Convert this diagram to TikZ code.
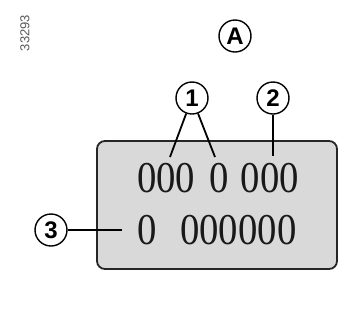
\documentclass[tikz,border=0pt]{standalone}
\usepackage{fontspec}
\setmainfont{Liberation Serif}
\newfontfamily\labelfont{Liberation Sans}
\begin{document}
\begin{tikzpicture}[x=1pt,y=-1pt,
  callout/.style={circle,draw=black,line width=1.4pt,minimum size=32pt,inner sep=0pt,
    font=\labelfont\fontsize{24}{24}\selectfont\bfseries},
  leader/.style={line width=1.8pt,black},
  digits/.style={anchor=base west,inner sep=0pt,xscale=0.88,text=black!90,
    font=\fontsize{44}{44}\selectfont},
  plate/.style={draw=black!85,line width=1.8pt,fill=black!15,rounded corners=8pt}]
\useasboundingbox[fill=white] (0,0) rectangle (341,325);
% serial number
\node[rotate=90,text=black!65,font=\labelfont\fontsize{13}{13}\selectfont] (ref) at (25,33) {33293};
% callout A
\node[callout] (cA) at (235,36) {A};
% plate
\draw[plate] (97,141) rectangle (337,269);
\node[digits] (row1) at (137,192.5) {000\hspace{16pt}0\hspace{14pt}000};
\node[digits] (row2) at (137,244.5) {0\hspace{27pt}000000};
% callouts
\node[callout] (c1) at (192,98) {1};
\node[callout] (c2) at (273,98) {2};
\node[callout] (c3) at (51,230) {3};
\coordinate (p1a) at (170,157);
\coordinate (p1b) at (215,157);
\coordinate (p2) at (273,156);
\coordinate (p3) at (122,230);
\draw[leader] (c1) -- (p1a);
\draw[leader] (c1) -- (p1b);
\draw[leader] (c2) -- (p2);
\draw[leader] (c3) -- (p3);
\end{tikzpicture}
\end{document}
